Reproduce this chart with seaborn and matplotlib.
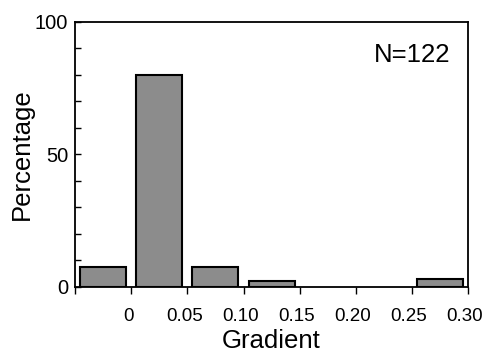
import matplotlib
matplotlib.use("Agg")
import matplotlib.pyplot as plt
import matplotlib.transforms as mtransforms
import seaborn as sns
import numpy as np
import pandas as pd

# Data
bin_centers = [-0.025, 0.025, 0.075, 0.125, 0.275]
percentages = [7.4, 80.0, 7.4, 2.3, 3.2]
xtick_values = [-0.05, 0.0, 0.05, 0.10, 0.15, 0.20, 0.25, 0.30]
xtick_labels = ["", "0", "0.05", "0.10", "0.15", "0.20", "0.25", "0.30"]
ytick_values = [0, 50, 100]
annotation = "N=122"

sns.set_theme(style="ticks")
plt.rcParams['font.family'] = ['Liberation Sans', 'DejaVu Sans']
for k in ['text.color', 'axes.labelcolor', 'xtick.color', 'ytick.color', 'axes.edgecolor']:
    plt.rcParams[k] = 'black'

fig = plt.figure(figsize=(4.82, 3.53), dpi=100)
ax = fig.add_axes([0.156, 0.187, 0.815, 0.751])

df = pd.DataFrame({"Gradient": bin_centers, "Percentage": percentages})
sns.barplot(data=df, x="Gradient", y="Percentage", native_scale=True, width=0.82,
            color="#8c8c8c", saturation=1, edgecolor="black", linewidth=1.5, ax=ax)

ax.set_xlim(-0.05, 0.30)
ax.set_ylim(0, 100)
ax.set_xticks(xtick_values)
ax.set_xticklabels(xtick_labels, fontsize=13.5)
ax.set_yticks(ytick_values)
ax.set_yticklabels([str(v) for v in ytick_values], fontsize=14.5)
ax.set_yticks(np.arange(0, 101, 10), minor=True)
ax.tick_params(axis='y', which='both', direction='in', length=4, width=1, pad=5)
ax.tick_params(axis='x', which='both', direction='out', length=5, width=1, pad=10)
for s in ax.spines.values():
    s.set_visible(True)
    s.set_linewidth(1.3)
    s.set_color("black")

offset = mtransforms.ScaledTranslation(-3 / 100, 0, fig.dpi_scale_trans)
for lbl in ax.get_xticklabels():
    lbl.set_transform(lbl.get_transform() + offset)

ax.set_xlabel("Gradient", fontsize=18.5, labelpad=3)
ax.set_ylabel("Percentage", fontsize=18.5, labelpad=1)
ax.text(0.955, 0.875, annotation, transform=ax.transAxes, ha="right", va="center", fontsize=18.5)

fig.savefig("out.png", dpi=100)
